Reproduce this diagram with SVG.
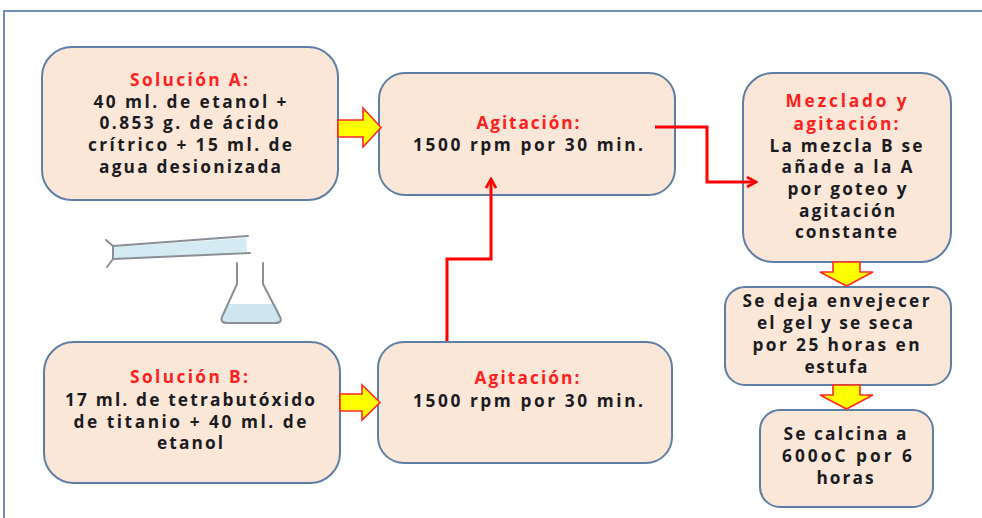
<svg xmlns="http://www.w3.org/2000/svg" width="982" height="518" viewBox="0 0 982 518">
  <defs>
    <style>
      .box { fill: #fbe7d8; stroke: #5f7ea6; stroke-width: 2; }
      .t { font-family: "Open Sans", "Liberation Sans", Arial, sans-serif; font-weight: bold; font-size: 17.3px; text-anchor: middle; fill: #1b1b22; }
      .h { fill: #ff2020; }
      .link { fill: none; stroke: #ff0000; stroke-width: 3; }
      .fat { fill: #ffff00; stroke: #ff2a2a; stroke-width: 1.6; stroke-linejoin: miter; }
      .glass { fill: none; stroke: #8a8f96; stroke-width: 2; stroke-linecap: round; stroke-linejoin: round; }
    </style>
    <marker id="chev" viewBox="0 0 12 12" refX="10" refY="6" markerWidth="12" markerHeight="12" markerUnits="userSpaceOnUse" orient="auto">
      <path d="M1,1 L10,6 L1,11" fill="none" stroke="#ff0000" stroke-width="2.6"/>
    </marker>
  </defs>

  <rect width="982" height="518" fill="#ffffff"/>
  <!-- outer frame -->
  <path d="M4,518 V11 H982" fill="none" stroke="#6f8db5" stroke-width="2"/>

  <!-- lab glassware sketch -->
  <g id="glassware">
    <path d="M113,247 L246,238 L247,252 L114,259 Z" fill="#d4ebf3" stroke="none"/>
    <path d="M113,246 L248,236 M113,259 L250,253" class="glass"/>
    <path d="M106,240 L113,246 L113,259 L107,267" class="glass"/>
    <path d="M227,304 L276,304 L281,318 Q282,323 276,323 L226,323 Q220,323 222,318 Z" fill="#cfe6f1" stroke="none"/>
    <path d="M237,263 L237,284 L222,317 Q220,323 227,323 L275,323 Q283,323 280,317 L263,284 L263,263" class="glass"/>
  </g>

  <g id="sol-a">
    <rect class="box" x="42" y="47" width="296" height="153" rx="30"/>
    <text class="t h" x="189" y="86" textLength="118" lengthAdjust="spacing">Solución A:</text>
    <text class="t" x="190" y="108" textLength="193" lengthAdjust="spacing">40 ml. de etanol +</text>
    <text class="t" x="189" y="129" textLength="179" lengthAdjust="spacing">0.853 g. de ácido</text>
    <text class="t" x="190" y="151" textLength="204" lengthAdjust="spacing">crítrico + 15 ml. de</text>
    <text class="t" x="190" y="173" textLength="182" lengthAdjust="spacing">agua desionizada</text>
  </g>

  <g id="agit-1">
    <rect class="box" x="379" y="73" width="296" height="122" rx="26"/>
    <text class="t h" x="528" y="129" textLength="103" lengthAdjust="spacing">Agitación:</text>
    <text class="t" x="528" y="151" textLength="230" lengthAdjust="spacing">1500 rpm por 30 min.</text>
  </g>

  <g id="mezcla">
    <rect class="box" x="743" y="73" width="208" height="189" rx="30"/>
    <text class="t h" x="846" y="107" textLength="121" lengthAdjust="spacing">Mezclado y</text>
    <text class="t h" x="846" y="130" textLength="105" lengthAdjust="spacing">agitación:</text>
    <text class="t" x="846" y="152" textLength="153" lengthAdjust="spacing">La mezcla B se</text>
    <text class="t" x="847" y="173" textLength="131" lengthAdjust="spacing">añade a la A</text>
    <text class="t" x="847" y="195" textLength="119" lengthAdjust="spacing">por goteo y</text>
    <text class="t" x="847" y="217" textLength="96" lengthAdjust="spacing">agitación</text>
    <text class="t" x="846" y="238" textLength="102" lengthAdjust="spacing">constante</text>
  </g>

  <g id="envejece">
    <rect class="box" x="725" y="287" width="226" height="98" rx="20"/>
    <text class="t" x="836" y="307" textLength="187" lengthAdjust="spacing">Se deja  envejecer</text>
    <text class="t" x="835" y="329" textLength="156" lengthAdjust="spacing">el gel y se seca</text>
    <text class="t" x="836" y="351" textLength="167" lengthAdjust="spacing">por 25 horas en</text>
    <text class="t" x="836" y="373" textLength="63" lengthAdjust="spacing">estufa</text>
  </g>

  <g id="calcina">
    <rect class="box" x="760" y="410" width="173" height="97" rx="20"/>
    <text class="t" x="845" y="440" textLength="123" lengthAdjust="spacing">Se calcina a</text>
    <text class="t" x="847" y="462" textLength="130" lengthAdjust="spacing">600oC por 6</text>
    <text class="t" x="845" y="484" textLength="57" lengthAdjust="spacing">horas</text>
  </g>

  <g id="sol-b">
    <rect class="box" x="44" y="342" width="296" height="141" rx="30"/>
    <text class="t h" x="189" y="383" textLength="118" lengthAdjust="spacing">Solución B:</text>
    <text class="t" x="190" y="406" textLength="250" lengthAdjust="spacing">17 ml. de tetrabutóxido</text>
    <text class="t" x="190" y="428" textLength="233" lengthAdjust="spacing">de titanio + 40 ml. de</text>
    <text class="t" x="190" y="449" textLength="66" lengthAdjust="spacing">etanol</text>
  </g>

  <g id="agit-2">
    <rect class="box" x="378" y="342" width="294" height="121" rx="26"/>
    <text class="t h" x="527" y="384" textLength="105" lengthAdjust="spacing">Agitación:</text>
    <text class="t" x="528" y="407" textLength="230" lengthAdjust="spacing">1500 rpm por 30 min.</text>
  </g>

  <!-- connectors, drawn above the boxes -->
  <g id="connectors">
    <path class="fat" d="M338,120 H363 V108 L381,127.5 L363,147 V137 H338 Z"/>
    <path class="fat" d="M340,394 H362 V385 L380,402.5 L362,420 V411 H340 Z"/>
    <path class="fat" d="M833,262 H860 V272 H873 L846.5,286 L820,272 H833 Z"/>
    <path class="fat" d="M833,385 H860 V395 H873 L846.5,409 L820,395 H833 Z"/>
    <path class="link" d="M447,341 V259 H491 V179" marker-end="url(#chev)"/>
    <path class="link" d="M655,127 H707 V182 H756" marker-end="url(#chev)"/>
  </g>
</svg>
